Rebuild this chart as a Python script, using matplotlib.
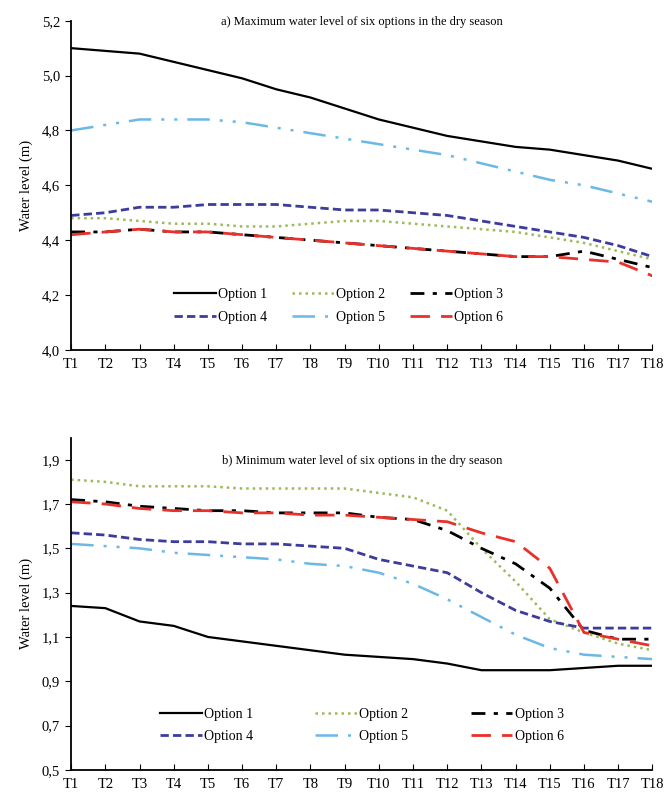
import numpy as np
import matplotlib
matplotlib.use('Agg')
import matplotlib.pyplot as plt
from matplotlib.ticker import FuncFormatter, MultipleLocator

plt.rcParams['font.family'] = ['Liberation Serif', 'DejaVu Serif']

# Time steps
periods = ['T%d' % i for i in range(1, 19)]

# a) maximum water level (m)
opt1_max = [5.10, 5.09, 5.08, 5.05, 5.02, 4.99, 4.95, 4.92, 4.88, 4.84, 4.81, 4.78, 4.76, 4.74, 4.73, 4.71, 4.69, 4.66]
opt2_max = [4.48, 4.48, 4.47, 4.46, 4.46, 4.45, 4.45, 4.46, 4.47, 4.47, 4.46, 4.45, 4.44, 4.43, 4.41, 4.39, 4.36, 4.33]
opt3_max = [4.43, 4.43, 4.44, 4.43, 4.43, 4.42, 4.41, 4.40, 4.39, 4.38, 4.37, 4.36, 4.35, 4.34, 4.34, 4.36, 4.33, 4.30]
opt4_max = [4.49, 4.50, 4.52, 4.52, 4.53, 4.53, 4.53, 4.52, 4.51, 4.51, 4.50, 4.49, 4.47, 4.45, 4.43, 4.41, 4.38, 4.34]
opt5_max = [4.80, 4.82, 4.84, 4.84, 4.84, 4.83, 4.81, 4.79, 4.77, 4.75, 4.73, 4.71, 4.68, 4.65, 4.62, 4.60, 4.57, 4.54]
opt6_max = [4.42, 4.43, 4.44, 4.43, 4.43, 4.42, 4.41, 4.40, 4.39, 4.38, 4.37, 4.36, 4.35, 4.34, 4.34, 4.33, 4.32, 4.27]

# b) minimum water level (m)
opt1_min = [1.24, 1.23, 1.17, 1.15, 1.10, 1.08, 1.06, 1.04, 1.02, 1.01, 1.00, 0.98, 0.95, 0.95, 0.95, 0.96, 0.97, 0.97]
opt2_min = [1.81, 1.80, 1.78, 1.78, 1.78, 1.77, 1.77, 1.77, 1.77, 1.75, 1.73, 1.67, 1.50, 1.35, 1.18, 1.12, 1.07, 1.04]
opt3_min = [1.72, 1.71, 1.69, 1.68, 1.67, 1.67, 1.66, 1.66, 1.66, 1.64, 1.63, 1.58, 1.50, 1.43, 1.32, 1.13, 1.09, 1.09]
opt4_min = [1.57, 1.56, 1.54, 1.53, 1.53, 1.52, 1.52, 1.51, 1.50, 1.45, 1.42, 1.39, 1.30, 1.22, 1.17, 1.14, 1.14, 1.14]
opt5_min = [1.52, 1.51, 1.50, 1.48, 1.47, 1.46, 1.45, 1.43, 1.42, 1.39, 1.34, 1.27, 1.19, 1.11, 1.05, 1.02, 1.01, 1.00]
opt6_min = [1.71, 1.70, 1.68, 1.67, 1.67, 1.66, 1.66, 1.65, 1.65, 1.64, 1.63, 1.62, 1.57, 1.53, 1.41, 1.12, 1.09, 1.06]

labels = ['Option 1', 'Option 2', 'Option 3', 'Option 4', 'Option 5', 'Option 6']

# line style per option
styles = [
    dict(color='black', lw=1.6, ls='-'),
    dict(color='#9bbb59', lw=1.8, dashes=(1, 1.6)),
    dict(color='black', lw=2.0, dashes=(5, 3, 1.5, 3)),
    dict(color='#3c3c9c', lw=2.0, dashes=(3, 1.5)),
    dict(color='#6ab8e6', lw=1.8, dashes=(9, 4, 1.2, 4, 1.2, 4)),
    dict(color='#e8312a', lw=2.0, dashes=(7, 4)),
]

comma_fmt = FuncFormatter(lambda v, p: ('%.1f' % v).replace('.', ','))
x = np.arange(len(periods))

fig = plt.figure(figsize=(6.65, 7.97), dpi=100)
fig.patch.set_facecolor('white')
ax1 = fig.add_axes([0.107, 0.561, 0.874, 0.413])
ax2 = fig.add_axes([0.107, 0.034, 0.874, 0.417])


def draw_panel(ax, series, ylim, yticks, title, leg_x, colspace):
    handles = []
    for vals, st in zip(series, styles):
        h, = ax.plot(x, vals, **st)
        handles.append(h)
    ax.set_xlim(0, len(periods) - 1)
    ax.set_ylim(*ylim)
    ax.set_yticks(yticks)
    ax.yaxis.set_major_formatter(comma_fmt)
    ax.set_xticks(x)
    ax.set_xticklabels(periods, fontsize=10.5)
    ax.tick_params(axis='y', direction='out', length=4, labelsize=10.5, pad=4)
    ax.tick_params(axis='x', direction='in', length=4, pad=6)
    for s in ['top', 'right']:
        ax.spines[s].set_visible(False)
    for s in ['left', 'bottom']:
        ax.spines[s].set_linewidth(1.3)
    ax.set_ylabel('Water level (m)', fontsize=10.5, labelpad=6)
    ax.text(0.5, 0.995, title, transform=ax.transAxes, ha='center', va='center',
            fontsize=9)
    # legend laid out as rows 1-2-3 / 4-5-6
    order = [0, 3, 1, 4, 2, 5]
    ax.legend([handles[i] for i in order], [labels[i] for i in order],
              ncol=3, frameon=False, loc='center', bbox_to_anchor=(leg_x, 0.134),
              fontsize=10, handlelength=3.0, handletextpad=0.15,
              columnspacing=colspace, labelspacing=0.7)


draw_panel(ax1, [opt1_max, opt2_max, opt3_max, opt4_max, opt5_max, opt6_max],
           (4.0, 5.2), np.arange(4.0, 5.21, 0.2),
           'a) Maximum water level of six options in the dry season', 0.46, 1.8)
draw_panel(ax2, [opt1_min, opt2_min, opt3_min, opt4_min, opt5_min, opt6_min],
           (0.5, 2.0), np.arange(0.5, 1.91, 0.2),
           'b) Minimum water level of six options in the dry season', 0.5, 4.5)
ax2.texts[0].set_position((0.5, 0.93))

fig.savefig('out.png', dpi=100, facecolor='white')
